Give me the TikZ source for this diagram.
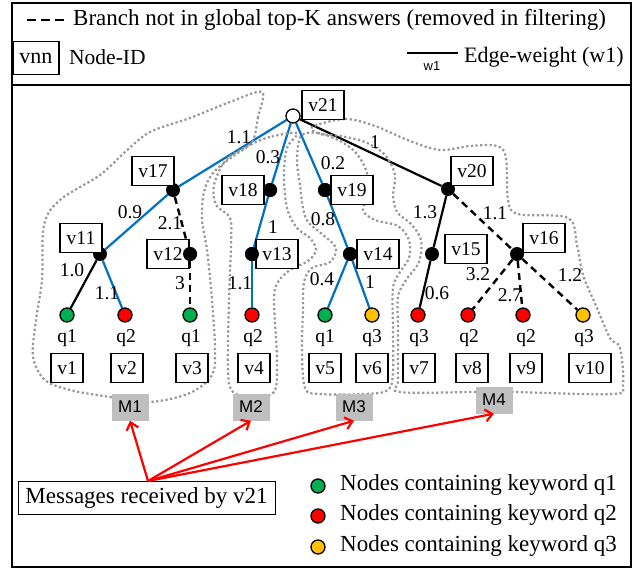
\documentclass[tikz,border=0pt]{standalone}
\usepackage{fontspec}
\setmainfont{Liberation Serif}
\newfontfamily\sansf{Liberation Sans}
\usetikzlibrary{arrows.meta,backgrounds}
\definecolor{eblue}{RGB}{0,112,192}
\definecolor{qgreen}{RGB}{0,176,80}
\definecolor{qred}{RGB}{255,0,0}
\definecolor{qyellow}{RGB}{255,192,0}
\definecolor{dotgray}{RGB}{150,150,150}
\definecolor{mgray}{RGB}{191,191,191}
\begin{document}
\begin{tikzpicture}[x=1pt,y=-1pt,
  idbox/.style={draw, fill=white, line width=1.8pt, minimum height=29pt, inner xsep=6.5pt, inner ysep=0pt, font=\fontsize{19.5}{19.5}\selectfont},
  wlab/.style={inner sep=0pt, font=\fontsize{19.5}{19.5}\selectfont},
  inode/.style={circle, fill=black, minimum size=14pt, inner sep=0pt},
  leaf/.style={circle, draw=black, line width=1.3pt, minimum size=14pt, inner sep=0pt},
  bluee/.style={draw=eblue, line width=2.2pt},
  blacke/.style={draw=black, line width=2.2pt},
  dashe/.style={draw=black, line width=2.4pt, dash pattern=on 7pt off 5pt},
  region/.style={draw=dotgray, line width=2.2pt, dash pattern=on 2.2pt off 2.5pt},
  mbox/.style={fill=mgray, minimum width=37pt, minimum height=27pt, inner sep=0pt, font=\sansf\fontsize{17}{17}\selectfont},
  msgarrow/.style={draw=red, line width=2.2pt, -{Straight Barb[length=7pt,width=12pt]}},
  legtext/.style={inner sep=0pt, anchor=west, font=\fontsize{23}{23}\selectfont},
]
\useasboundingbox (0,0) rectangle (635,571);
\begin{scope}[on background layer]
\fill[white] (0,0) rectangle (635,571);
\end{scope}

% frame
\draw[line width=2.5pt] (12,3) rectangle (631,567);
\draw[line width=2.5pt] (12,85) -- (631,85);

% top legend
\coordinate (d1) at (27,20);
\coordinate (d2) at (66,20);
\draw[line width=2.8pt, dash pattern=on 9pt off 5pt] (d1) -- (d2);
\node[legtext] (lg1) at (73,20) {Branch not in global top-K answers (removed in filtering)};
\node[idbox, font=\fontsize{22}{22}\selectfont, minimum height=33pt, minimum width=39pt] (lgv) at (36,58) {vnn};
\node[legtext, font=\fontsize{21.5}{21.5}\selectfont] (lg2) at (69,57) {Node-ID};
\coordinate (w1a) at (407,53);
\coordinate (w1b) at (458,53);
\draw[line width=2.5pt] (w1a) -- (w1b);
\node[inner sep=0pt, font=\sansf\fontsize{13}{13}\selectfont] (w1t) at (432,66) {w1};
\node[legtext, font=\fontsize{22}{22}\selectfont] (lg3) at (464,57) {Edge-weight (w1)};

% regions
\draw[region] plot[smooth cycle, tension=0.55] coordinates {(262,92) (258,117) (252,142) (232,157) (213,173) (204,192) (202,220) (207,250) (212,300) (215,350) (212,375) (190,393) (150,402) (110,397) (70,390) (45,380) (33,357) (36,320) (42,280) (44,225) (60,200) (100,175) (125,152) (150,132) (190,118) (230,102)};
\draw[region] plot[smooth cycle, tension=0.55] coordinates {(297,133) (270,137) (250,145) (226,160) (214,185) (216,205) (230,218) (231,245) (229,300) (228,370) (233,392) (252,396) (274,392) (277,360) (274,300) (278,282) (290,270) (308,261) (316,250) (310,238) (297,228) (287,208) (284,175) (287,148)};
\draw[region] plot[smooth cycle, tension=0.55] coordinates {(301,136) (318,133) (340,141) (356,153) (366,170) (369,192) (363,210) (375,220) (398,226) (409,240) (409,258) (400,272) (393,288) (393,330) (393,372) (388,390) (365,394) (320,394) (305,388) (302,350) (303,310) (304,282) (312,268) (330,262) (336,248) (322,234) (308,222) (303,208) (300,185) (297,160)};
\draw[region] plot[smooth cycle, tension=0.55] coordinates {(312,127) (345,119) (375,126) (410,141) (440,150) (470,146) (497,146) (506,158) (508,200) (518,214) (568,218) (577,245) (583,275) (597,308) (610,338) (620,348) (623,385) (612,394) (513,392) (475,392) (400,392) (398,380) (398,330) (398,297) (406,280) (419,262) (421,240) (411,224) (397,212) (393,195) (395,175) (385,155) (365,142) (340,136) (320,134)};

% internal nodes
\node[leaf, fill=white] (n21) at (293,116) {};
\node[inode] (n17) at (173,190) {};
\node[inode] (n18) at (270,190) {};
\node[inode] (n19) at (325,190) {};
\node[inode] (n20) at (448,189) {};
\node[inode] (n11) at (100,254) {};
\node[inode] (n12) at (190,254) {};
\node[inode] (n13) at (252,254) {};
\node[inode] (n14) at (350,254) {};
\node[inode] (n15) at (432,254) {};
\node[inode] (n16) at (517,254) {};

% leaves
\node[leaf, fill=qgreen] (l1) at (67,315) {};
\node[leaf, fill=qred] (l2) at (125,315) {};
\node[leaf, fill=qgreen] (l3) at (190,315) {};
\node[leaf, fill=qred] (l4) at (252,315) {};
\node[leaf, fill=qgreen] (l5) at (325,315) {};
\node[leaf, fill=qyellow] (l6) at (372,315) {};
\node[leaf, fill=qred] (l7) at (418,315) {};
\node[leaf, fill=qred] (l8) at (468,315) {};
\node[leaf, fill=qred] (l9) at (523,315) {};
\node[leaf, fill=qyellow] (l10) at (583,315) {};

% edges
\begin{scope}[on background layer]
\draw[bluee] (n21) -- (n17);
\draw[bluee] (n21) -- (n18);
\draw[bluee] (n21) -- (n19);
\draw[blacke] (n21) -- (n20);
\draw[bluee] (n17) -- (n11);
\draw[dashe] (n17) -- (n12);
\draw[bluee] (n18) -- (n13);
\draw[bluee] (n19) -- (n14);
\draw[blacke] (n20) -- (n15);
\draw[dashe] (n20) -- (n16);
\draw[blacke] (n11) -- (l1);
\draw[bluee] (n11) -- (l2);
\draw[dashe] (n12) -- (l3);
\draw[bluee] (n13) -- (l4);
\draw[bluee] (n14) -- (l5);
\draw[bluee] (n14) -- (l6);
\draw[blacke] (n15) -- (l7);
\draw[dashe] (n16) -- (l8);
\draw[dashe] (n16) -- (l9);
\draw[dashe] (n16) -- (l10);
\end{scope}

% id boxes of internal nodes
\node[idbox] (b21) at (323,105) {v21};
\node[idbox] (b17) at (153,171) {v17};
\node[idbox] (b18) at (243,190) {v18};
\node[idbox] (b19) at (352,190) {v19};
\node[idbox] (b20) at (472,171) {v20};
\node[idbox] (b11) at (81,238) {v11};
\node[idbox] (b12) at (168,254) {v12};
\node[idbox] (b13) at (277,254) {v13};
\node[idbox] (b14) at (378,254) {v14};
\node[idbox] (b15) at (466,249) {v15};
\node[idbox] (b16) at (544,238) {v16};
% redraw dots over boxes
\node[inode] at (n12) {};
\node[inode] at (n13) {};
\node[inode] at (n18) {};
\node[inode] at (n19) {};
\node[inode] at (n14) {};

% keyword labels
\node[wlab] (k1) at (67,338) {q1};
\node[wlab] (k2) at (126,338) {q2};
\node[wlab] (k3) at (191,338) {q1};
\node[wlab] (k4) at (253,338) {q2};
\node[wlab] (k5) at (325,338) {q1};
\node[wlab] (k6) at (372,338) {q3};
\node[wlab] (k7) at (419,338) {q3};
\node[wlab] (k8) at (469,338) {q2};
\node[wlab] (k9) at (526,338) {q2};
\node[wlab] (k10) at (584,338) {q3};

% leaf id boxes
\node[idbox] (v1) at (67,368) {v1};
\node[idbox] (v2) at (127,368) {v2};
\node[idbox] (v3) at (192,368) {v3};
\node[idbox] (v4) at (254,368) {v4};
\node[idbox] (v5) at (325,368) {v5};
\node[idbox] (v6) at (372,368) {v6};
\node[idbox] (v7) at (419,368) {v7};
\node[idbox] (v8) at (472,368) {v8};
\node[idbox] (v9) at (526,368) {v9};
\node[idbox] (v10) at (590,368) {v10};

% edge weights
\node[wlab] (e1) at (239,137) {1.1};
\node[wlab] (e2) at (268,157) {0.3};
\node[wlab] (e3) at (333,163) {0.2};
\node[wlab] (e4) at (375,142) {1};
\node[wlab] (e5) at (130,212) {0.9};
\node[wlab] (e6) at (170,223) {2.1};
\node[wlab] (e7) at (273,227) {1};
\node[wlab] (e8) at (323,219) {0.8};
\node[wlab] (e9) at (72,270) {1.0};
\node[wlab] (e10) at (107,293) {1.1};
\node[wlab] (e11) at (180,283) {3};
\node[wlab] (e12) at (240,283) {1.1};
\node[wlab] (e13) at (322,279) {0.4};
\node[wlab] (e14) at (370,282) {1};
\node[wlab] (e15) at (425,212) {1.3};
\node[wlab] (e16) at (495,213) {1.1};
\node[wlab] (e17) at (437,293) {0.6};
\node[wlab] (e18) at (478,274) {3.2};
\node[wlab] (e19) at (510,295) {2.7};
\node[wlab] (e20) at (570,275) {1.2};

% message boxes
\node[mbox] (M1) at (130,407) {M1};
\node[mbox] (M2) at (251,407) {M2};
\node[mbox] (M3) at (354,407) {M3};
\node[mbox] (M4) at (494,400) {M4};

\node[draw, line width=0.8pt, fill=white, minimum width=257pt, minimum height=33pt, inner sep=0pt, font=\fontsize{23}{23}\selectfont] (msg) at (146.5,498) {Messages received by v21};
\coordinate (src) at (148,481);
\draw[msgarrow] (src) -- (M1.south);
\draw[msgarrow] (src) -- (M2.south);
\draw[msgarrow] (src) -- (M3.south);
\draw[msgarrow] (src) -- (M4.south);

% bottom legend
\node[leaf, fill=qgreen] (c1) at (318,486) {};
\node[leaf, fill=qred] (c2) at (318,516) {};
\node[leaf, fill=qyellow] (c3) at (318,547) {};
\node[legtext] (t1) at (340,485) {Nodes containing keyword q1};
\node[legtext] (t2) at (340,515) {Nodes containing keyword q2};
\node[legtext] (t3) at (340,546) {Nodes containing keyword q3};
\end{tikzpicture}
\end{document}
